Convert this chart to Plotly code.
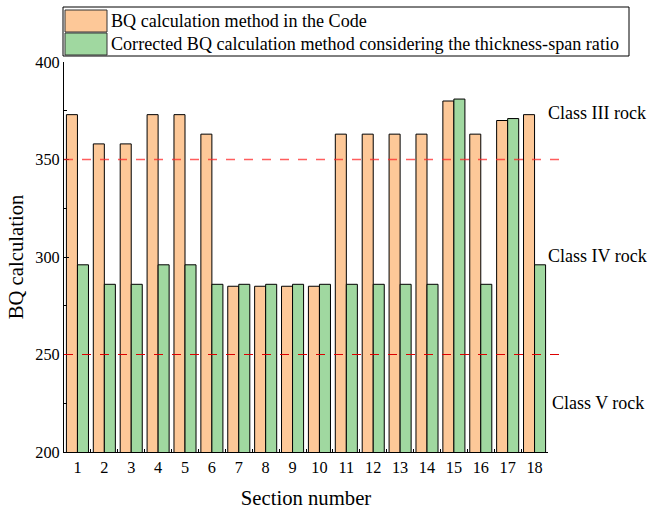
import plotly.graph_objects as go

sections = [str(i) for i in range(1, 19)]
bq_code = [373, 358, 358, 373, 373, 363, 285, 285, 285, 285, 363, 363, 363, 363, 380, 363, 370, 373]
bq_corrected = [296, 286, 286, 296, 296, 286, 286, 286, 286, 286, 286, 286, 286, 286, 381, 286, 371, 296]
series_names = ["BQ calculation method in the Code",
                "Corrected BQ calculation method considering the thickness-span ratio"]
series_colors = ["#FDC898", "#A0D8A0"]
class_labels = ["Class III rock", "Class IV rock", "Class V rock"]
class_label_y = [374, 300.5, 225]
threshold_values = [350, 250]

FONT = "Times New Roman, Liberation Serif, DejaVu Serif, serif"

# plot-area geometry in pixels (for converting legend placement to paper coords)
L, R, T, B, W, H = 64, 100, 62, 57, 648, 509
PW, PH = W - L - R, H - T - B
def px(x):
    return (x - L) / PW
def py(y):
    return (H - B - y) / PH

fig = go.Figure()
for vals, name, col in zip([bq_code, bq_corrected], series_names, series_colors):
    fig.add_trace(go.Bar(
        x=sections, y=vals, name=name, showlegend=False,
        marker=dict(color=col, line=dict(color="black", width=1)),
    ))

# threshold lines
fig.add_shape(type="line", xref="paper", yref="y", x0=0, x1=px(562),
              y0=threshold_values[0], y1=threshold_values[0],
              line=dict(color="rgba(255,40,40,0.75)", width=1.6, dash="dash"))
fig.add_shape(type="line", xref="paper", yref="y", x0=0, x1=px(562),
              y0=threshold_values[1], y1=threshold_values[1],
              line=dict(color="#dd0000", width=1, dash="dash"))

for i, (lab, yv) in enumerate(zip(class_labels, class_label_y)):
    fig.add_annotation(text=lab, xref="paper", yref="y", x=px(546 if i < 2 else 550),
                       y=yv, xanchor="left", yanchor="middle", showarrow=False,
                       font=dict(family=FONT, size=18, color="black"))

# legend box (drawn to match the large swatches of the reference)
fig.add_shape(type="rect", xref="paper", yref="paper",
              x0=px(63), x1=px(629), y0=py(56), y1=py(7),
              line=dict(color="black", width=1), fillcolor="white", layer="above")
sw_top = [10, 33]
for i, (name, col) in enumerate(zip(series_names, series_colors)):
    fig.add_shape(type="rect", xref="paper", yref="paper",
                  x0=px(65), x1=px(107), y0=py(sw_top[i] + 22), y1=py(sw_top[i]),
                  line=dict(color="#333333", width=1), fillcolor=col, layer="above")
    fig.add_annotation(text=name, xref="paper", yref="paper", x=px(109),
                       y=py(sw_top[i] + 11), xanchor="left", yanchor="middle",
                       showarrow=False, font=dict(family=FONT, size=18.1, color="black"))

fig.update_layout(
    width=W, height=H,
    margin=dict(l=L, r=R, t=T, b=B, autoexpand=False),
    paper_bgcolor="white", plot_bgcolor="white",
    barmode="group", bargap=0.18, bargroupgap=0,
    font=dict(family=FONT, size=16, color="black"),
    showlegend=False,
    xaxis=dict(
        type="category", range=[-0.5, 17.5],
        showline=True, linecolor="black", linewidth=1,
        ticks="inside", tickson="boundaries", ticklen=3, tickcolor="black",
        showgrid=False, zeroline=False,
        title=dict(text="Section number", font=dict(family=FONT, size=20.7), standoff=14),
        tickfont=dict(family=FONT, size=16.3),
    ),
    yaxis=dict(
        range=[200, 400], dtick=50, tick0=200,
        showline=True, linecolor="black", linewidth=1,
        ticks="inside", ticklen=5, tickcolor="black",
        minor=dict(dtick=25, ticks="inside", ticklen=3, tickcolor="black"),
        showgrid=False, zeroline=False,
        title=dict(text="BQ calculation", font=dict(family=FONT, size=20.7), standoff=6),
        tickfont=dict(family=FONT, size=16.3),
    ),
)

fig.write_html("out.html")
